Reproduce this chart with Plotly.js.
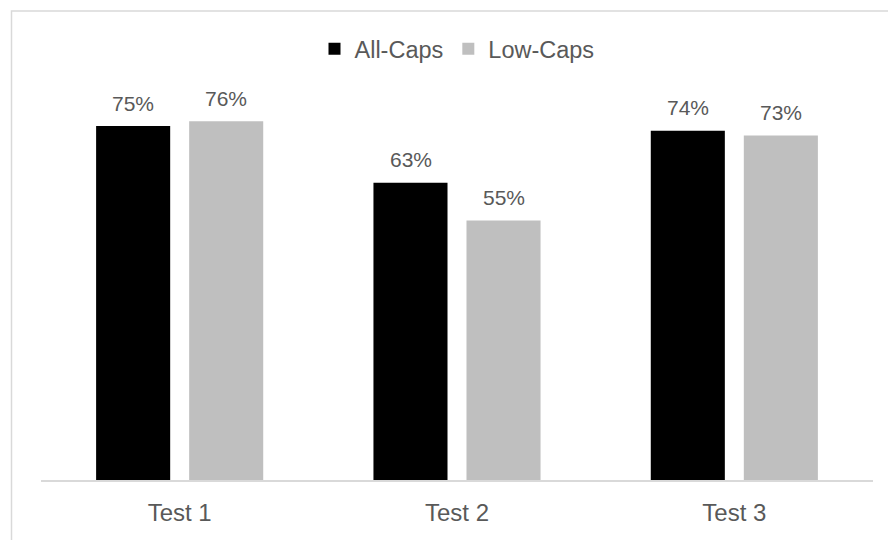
<!DOCTYPE html>
<html>
<head>
<meta charset="utf-8">
<script src="https://cdn.plot.ly/plotly-3.0.1.min.js"></script>
<style>
  html, body { margin: 0; padding: 0; background: #ffffff; }
  #chart { width: 888px; height: 540px; }
</style>
</head>
<body>
<div id="chart"></div>
<script>
const categories = ["Test 1", "Test 2", "Test 3"];
const seriesNames = ["All-Caps", "Low-Caps"];
const allCaps = [75, 63, 74];
const lowCaps = [76, 55, 73];
const seriesColors = ["#000000", "#bfbfbf"];

const seriesValues = [allCaps, lowCaps];
const FONT = "'Liberation Sans', Arial, Helvetica, sans-serif";
const TEXT = "#595959";

const traces = seriesValues.map((vals, i) => ({
  type: "bar",
  name: seriesNames[i],
  x: categories,
  y: vals,
  marker: { color: seriesColors[i], line: { width: 0 } },
  hoverinfo: "skip"
}));

const offsets = [-46.5, 46.5];
const annotations = [];
seriesValues.forEach((vals, i) => {
  vals.forEach((v, j) => {
    annotations.push({
      x: categories[j], y: v, xref: "x", yref: "y",
      text: v + "%", showarrow: false,
      xshift: offsets[i], yshift: 23,
      xanchor: "center", yanchor: "middle",
      font: { family: FONT, size: 21, color: TEXT }
    });
  });
});

const layout = {
  width: 888, height: 540,
  margin: { l: 41, r: 15, t: 8, b: 60 },
  paper_bgcolor: "#ffffff", plot_bgcolor: "#ffffff",
  barmode: "group",
  bargap: 0.329,
  bargroupgap: 0.204,
  font: { family: FONT, color: TEXT },
  showlegend: true,
  legend: {
    orientation: "h", x: 0.5, xanchor: "center", y: 0.913, yanchor: "middle",
    bgcolor: "rgba(0,0,0,0)",
    font: { family: FONT, size: 23.5, color: TEXT },
    itemwidth: 30, traceorder: "normal"
  },
  xaxis: {
    type: "category",
    range: [-0.5, 2.5],
    showline: true, linecolor: "#d9d9d9", linewidth: 1.5,
    showgrid: false, zeroline: false, ticks: "",
    ticklabelstandoff: 11,
    tickfont: { family: FONT, size: 24, color: TEXT }
  },
  yaxis: {
    range: [0, 100],
    visible: false, showgrid: false, zeroline: false
  },
  annotations: annotations,
  shapes: [{
    type: "rect", xref: "paper", yref: "paper",
    x0: (11.5 - 41) / 832, x1: (910 - 41) / 832,
    y0: (480 - 11) / 472, y1: (480 - 570) / 472,
    line: { color: "#d9d9d9", width: 1.5 }, fillcolor: "rgba(0,0,0,0)", layer: "below"
  }]
};

Plotly.newPlot("chart", traces, layout, { displayModeBar: false, staticPlot: true });
</script>
</body>
</html>
